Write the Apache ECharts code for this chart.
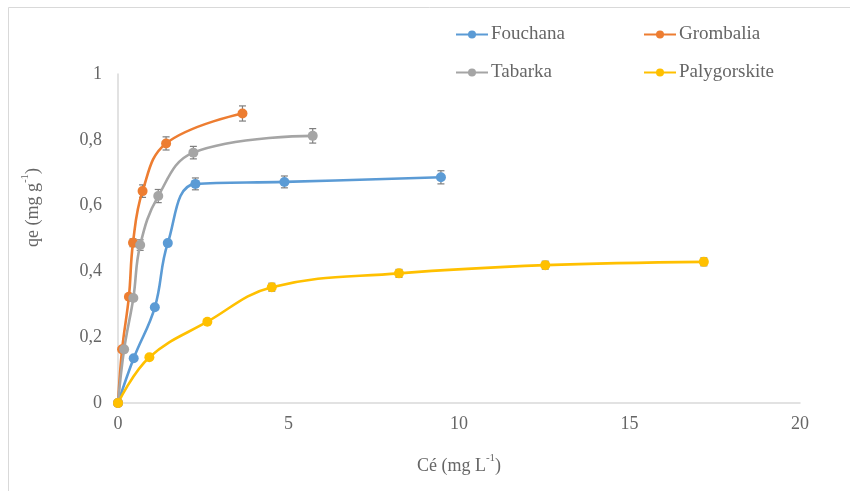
<!DOCTYPE html>
<html>
<head>
<meta charset="utf-8">
<script src="https://cdn.jsdelivr.net/npm/echarts@6/dist/echarts.min.js"></script>
<style>html,body{margin:0;padding:0;background:#fff}#c{width:850px;height:491px}</style>
</head>
<body>
<div id="c"></div>
<script>
// ---- data ----
const seriesNames = ['Fouchana', 'Grombalia', 'Tabarka', 'Palygorskite'];
const fouchanaX = [0, 0.46, 1.08, 1.46, 2.27, 4.88, 9.47];
const fouchanaY = [0, 0.136, 0.291, 0.486, 0.666, 0.672, 0.686];
const fouchanaErr = [0, 0, 0, 0, 0.018, 0.018, 0.02];
const grombaliaX = [0, 0.12, 0.32, 0.44, 0.72, 1.41, 3.65];
const grombaliaY = [0, 0.163, 0.323, 0.487, 0.644, 0.789, 0.880];
const grombaliaErr = [0, 0, 0, 0.012, 0.019, 0.02, 0.023];
const tabarkaX = [0, 0.18, 0.45, 0.65, 1.18, 2.21, 5.71];
const tabarkaY = [0, 0.163, 0.319, 0.480, 0.629, 0.761, 0.812];
const tabarkaErr = [0, 0, 0.006, 0.016, 0.02, 0.019, 0.022];
const palyX = [0, 0.92, 2.62, 4.51, 8.24, 12.53, 17.18];
const palyY = [0, 0.139, 0.247, 0.352, 0.394, 0.419, 0.429];
const palyErr = [0, 0, 0, 0.012, 0.012, 0.012, 0.012];
const xTicks = [0, 5, 10, 15, 20];
const yTicks = [0, 0.2, 0.4, 0.6, 0.8, 1];

const colors = ['#5B9BD5', '#ED7D31', '#A5A5A5', '#FFC000'];
const FONT = '"Liberation Serif", "Times New Roman", serif';
const TXT = '#666666';

function pairs(xs, ys) { return xs.map((x, i) => [x, ys[i]]); }
function errData(xs, ys, es) { return xs.map((x, i) => [x, ys[i], es[i]]); }

const allData = [
  [fouchanaX, fouchanaY, fouchanaErr],
  [grombaliaX, grombaliaY, grombaliaErr],
  [tabarkaX, tabarkaY, tabarkaErr],
  [palyX, palyY, palyErr]
];

function renderErr(params, api) {
  const e = api.value(2);
  if (!e) return null;
  const x = api.value(0), y = api.value(1);
  const top = api.coord([x, y + e]);
  const bot = api.coord([x, y - e]);
  const hw = 3.5;
  const style = { stroke: '#7F7F7F', lineWidth: 1.2, fill: null };
  return {
    type: 'group',
    children: [
      { type: 'line', shape: { x1: top[0], y1: top[1], x2: bot[0], y2: bot[1] }, style },
      { type: 'line', shape: { x1: top[0] - hw, y1: top[1], x2: top[0] + hw, y2: top[1] }, style },
      { type: 'line', shape: { x1: bot[0] - hw, y1: bot[1], x2: bot[0] + hw, y2: bot[1] }, style }
    ]
  };
}

const series = [];
allData.forEach((d, i) => {
  series.push({
    name: seriesNames[i] + ' err',
    type: 'custom',
    renderItem: renderErr,
    data: errData(d[0], d[1], d[2]),
    z: 1,
    silent: true
  });
});
allData.forEach((d, i) => {
  series.push({
    name: seriesNames[i],
    type: 'line',
    data: pairs(d[0], d[1]),
    smooth: 0.4,
    symbol: 'circle',
    symbolSize: 10,
    showAllSymbol: true,
    lineStyle: { width: 2.6, color: colors[i] },
    itemStyle: { color: colors[i] },
    z: 3
  });
});

const legendPos = [[450, 20], [638, 20], [450, 58], [638, 58]];
const legends = seriesNames.map((n, i) => ({
  data: [n],
  left: legendPos[i][0],
  top: legendPos[i][1],
  itemWidth: 32,
  itemHeight: 10,
  itemGap: 0,
  textStyle: { fontFamily: FONT, fontSize: 19, color: TXT, padding: [0, 0, 0, -2] },
  selectedMode: false
}));

const chart = echarts.init(document.getElementById('c'));
chart.setOption({
  animation: false,
  backgroundColor: '#fff',
  color: colors,
  textStyle: { fontFamily: FONT },
  legend: legends,
  grid: { left: 118, right: 50, top: 74, bottom: 88 },
  xAxis: {
    type: 'value',
    min: xTicks[0], max: xTicks[xTicks.length - 1], interval: 5,
    axisLine: { show: true, lineStyle: { color: '#D9D9D9', width: 1.5 } },
    axisTick: { show: false },
    splitLine: { show: false },
    axisLabel: { fontFamily: FONT, fontSize: 18, color: TXT, margin: 12 },
    name: '{b|Cé (mg L}{s|-1}{b|)}',
    nameLocation: 'middle',
    nameGap: 50,
    nameTextStyle: {
      rich: {
        b: { fontFamily: FONT, fontSize: 18, color: TXT, lineHeight: 22, verticalAlign: 'bottom' },
        s: { fontFamily: FONT, fontSize: 11, color: TXT, lineHeight: 22, verticalAlign: 'top' }
      }
    }
  },
  yAxis: {
    type: 'value',
    min: yTicks[0], max: yTicks[yTicks.length - 1], interval: 0.2,
    axisLine: { show: true, lineStyle: { color: '#D9D9D9', width: 1.5 } },
    axisTick: { show: false },
    splitLine: { show: false },
    axisLabel: {
      fontFamily: FONT, fontSize: 18, color: TXT, margin: 16,
      formatter: v => String(Math.round(v * 10) / 10).replace('.', ',')
    },
    name: '{b|qe (mg g}{s|-1}{b|)}',
    nameLocation: 'middle',
    nameGap: 76,
    nameRotate: 90,
    nameTextStyle: {
      padding: [0, 0, 0, 62],
      rich: {
        b: { fontFamily: FONT, fontSize: 18, color: TXT, lineHeight: 22, verticalAlign: 'bottom' },
        s: { fontFamily: FONT, fontSize: 11, color: TXT, lineHeight: 22, verticalAlign: 'top' }
      }
    }
  },
  graphic: [{
    type: 'rect',
    shape: { x: 8.5, y: 7.5, width: 900, height: 600 },
    style: { fill: null, stroke: '#D9D9D9', lineWidth: 1 },
    silent: true,
    z: -10
  }],
  series
});
</script>
</body>
</html>
